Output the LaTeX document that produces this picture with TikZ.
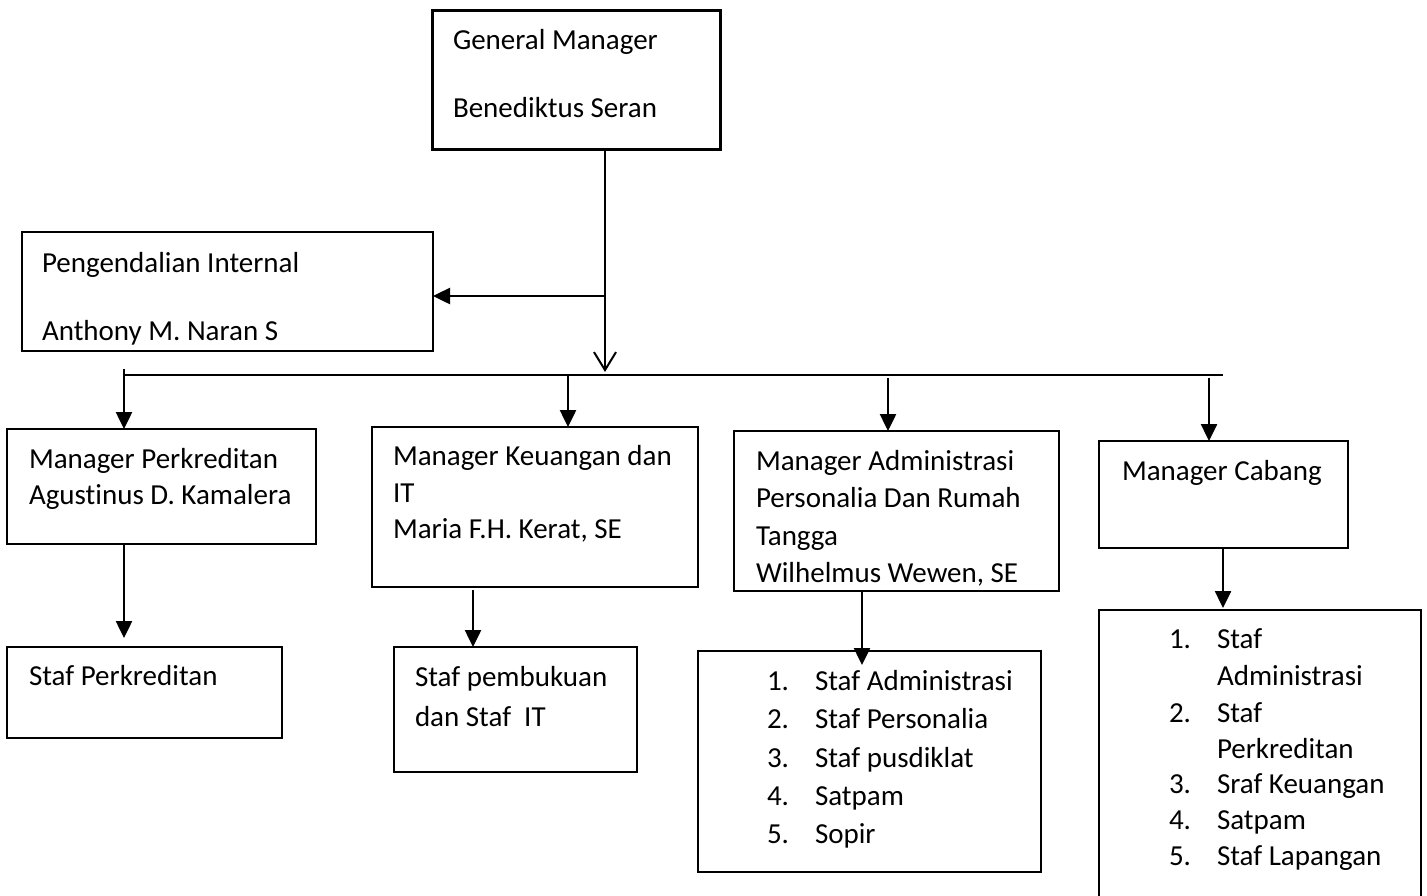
\documentclass[tikz,border=0pt]{standalone}
\usepackage{fontspec}
\setmainfont{Carlito}[Ligatures=NoCommon]
\usetikzlibrary{arrows.meta}
\begin{document}
\begin{tikzpicture}[x=1pt,y=-1pt,
  box/.style={draw, rectangle, line width=1.7pt, inner sep=0pt, outer sep=0pt, anchor=north west},
  gmbox/.style={box, line width=3pt},
  txt/.style={anchor=base west, inner sep=0pt, outer sep=0pt, font=\fontsize{29}{36}\selectfont},
  conn/.style={line width=2.5pt, -{Triangle[length=17pt,width=16pt]}},
  busline/.style={line width=2pt},
  vconn/.style={line width=2.5pt, -{Straight Barb[length=18pt,width=22pt,line width=2pt]}},
]
\useasboundingbox (0,0) rectangle (1427,895);
\clip (0,0) rectangle (1427,895);

% boxes
\node[gmbox, minimum width=288pt, minimum height=139pt] (gm) at (432,10) {};
\node[box, minimum width=411pt, minimum height=119pt] (pi) at (22,232) {};
\node[box, minimum width=309pt, minimum height=115pt] (mp) at (7,429) {};
\node[box, minimum width=275pt, minimum height=91pt] (sp) at (7,647) {};
\node[box, minimum width=326pt, minimum height=160pt] (mk) at (372,427) {};
\node[box, minimum width=243pt, minimum height=125pt] (sk) at (394,647) {};
\node[box, minimum width=325pt, minimum height=160pt] (ma) at (734,431) {};
\node[box, minimum width=343pt, minimum height=221pt] (sa) at (698,651) {};
\node[box, minimum width=249pt, minimum height=107pt] (mc) at (1099,441) {};
\node[box, minimum width=322pt, minimum height=300pt] (sc) at (1099,610) {};

% texts
\node[txt] (gm1) at (453,49) {General Manager};
\node[txt] (gm2) at (453,117) {Benediktus Seran};
\node[txt] (pi1) at (42,272) {Pengendalian Internal};
\node[txt] (pi2) at (42,340) {Anthony M. Naran S};
\node[txt] (mp1) at (29,468) {Manager Perkreditan};
\node[txt] (mp2) at (29,504) {Agustinus D. Kamalera};
\node[txt] (sp1) at (29,685) {Staf Perkreditan};
\node[txt] (mk1) at (393,465) {Manager Keuangan dan};
\node[txt] (mk2) at (393,502) {IT};
\node[txt] (mk3) at (393,538) {Maria F.H. Kerat, SE};
\node[txt] (sk1) at (415,686) {Staf pembukuan};
\node[txt] (sk2) at (415,726) {dan Staf\ \ IT};
\node[txt] (ma1) at (756,470) {Manager Administrasi};
\node[txt] (ma2) at (756,507) {Personalia Dan Rumah};
\node[txt] (ma3) at (756,545) {Tangga};
\node[txt] (ma4) at (756,582) {Wilhelmus Wewen, SE};
\node[txt] (sa1n) at (767,690) {1.};
\node[txt] (sa1) at (815,690) {Staf Administrasi};
\node[txt] (sa2n) at (767,728) {2.};
\node[txt] (sa2) at (815,728) {Staf Personalia};
\node[txt] (sa3n) at (767,767) {3.};
\node[txt] (sa3) at (815,767) {Staf pusdiklat};
\node[txt] (sa4n) at (767,805) {4.};
\node[txt] (sa4) at (815,805) {Satpam};
\node[txt] (sa5n) at (767,843) {5.};
\node[txt] (sa5) at (815,843) {Sopir};
\node[txt] (mc1) at (1122,480) {Manager Cabang};
\node[txt] (sc1n) at (1169,648) {1.};
\node[txt] (sc1) at (1217,648) {Staf};
\node[txt] (sc1b) at (1217,685) {Administrasi};
\node[txt] (sc2n) at (1169,722) {2.};
\node[txt] (sc2) at (1217,722) {Staf};
\node[txt] (sc2b) at (1217,758) {Perkreditan};
\node[txt] (sc3n) at (1169,793) {3.};
\node[txt] (sc3) at (1217,793) {Sraf Keuangan};
\node[txt] (sc4n) at (1169,829) {4.};
\node[txt] (sc4) at (1217,829) {Satpam};
\node[txt] (sc5n) at (1169,865) {5.};
\node[txt] (sc5) at (1217,865) {Staf Lapangan};

% coordinates
\coordinate (tap) at (605,296);
\coordinate (vtip) at (605,372);
\coordinate (busL) at (124,375);
\coordinate (busR) at (1223,375);
\coordinate (d1) at (124,369);
\coordinate (d2) at (568,375);
\coordinate (d3) at (888,378);
\coordinate (d4) at (1209,378);
\coordinate (e1) at (124,638);
\coordinate (e2) at (473,590);
\coordinate (e3) at (862,665);
\coordinate (e4) at (1223,608);

% connectors
\draw[vconn] (gm.south -| vtip) -- (vtip);
\draw[conn] (tap) -- (pi.east |- tap);
\draw[busline] (busL) -- (busR);
\draw[conn] (d1) -- (mp.north -| d1);
\draw[conn] (d2) -- (mk.north -| d2);
\draw[conn] (d3) -- (ma.north -| d3);
\draw[conn] (d4) -- (mc.north -| d4);
\draw[conn] (mp.south -| e1) -- (e1);
\draw[conn] (e2) -- (sk.north -| e2);
\draw[conn] (ma.south -| e3) -- (e3);
\draw[conn] (mc.south -| e4) -- (e4);
\end{tikzpicture}
\end{document}
